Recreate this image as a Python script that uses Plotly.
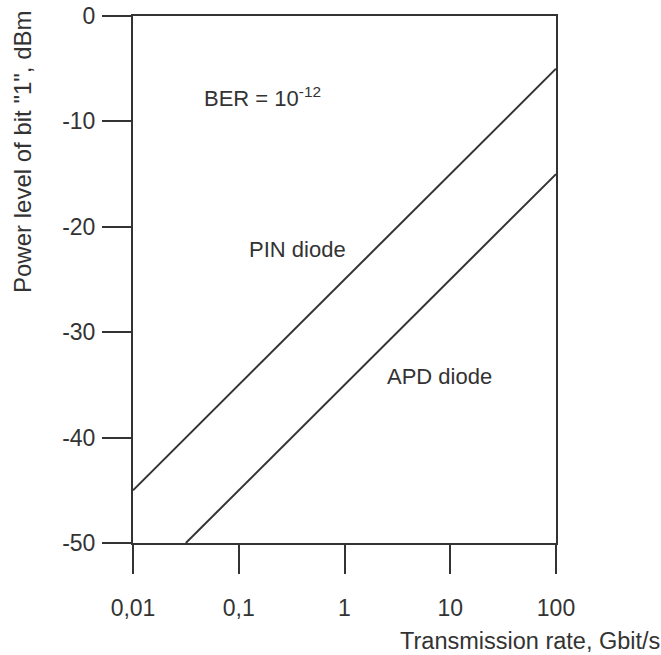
import plotly.graph_objects as go

# Data
pin_rate = [0.01, 100]
pin_power = [-45, -5]
apd_rate = [0.0316, 100]
apd_power = [-50, -15]

x_tickvals = [0.01, 0.1, 1, 10, 100]
x_ticktext = ["0,01", "0,1", "1", "10", "100"]
y_tickvals = [0, -10, -20, -30, -40, -50]
y_ticktext = ["0", "-10", "-20", "-30", "-40", "-50"]

INK = "#333333"
FONT = "Liberation Sans, Arial, sans-serif"

fig = go.Figure()
fig.add_trace(go.Scatter(x=pin_rate, y=pin_power, mode="lines",
                         line=dict(color=INK, width=2), showlegend=False))
fig.add_trace(go.Scatter(x=apd_rate, y=apd_power, mode="lines",
                         line=dict(color=INK, width=2), showlegend=False))

fig.update_layout(
    width=661, height=655,
    margin=dict(l=133, r=105, t=16, b=112),
    paper_bgcolor="white", plot_bgcolor="white",
    font=dict(family=FONT, size=23, color=INK),
    xaxis=dict(type="log", range=[-2, 2], tickvals=x_tickvals, ticktext=x_ticktext,
               showline=True, linecolor=INK, linewidth=2, mirror=True,
               ticks="outside", ticklen=29, tickwidth=2, tickcolor=INK,
               showgrid=False, zeroline=False, ticklabelstandoff=14, automargin=False,
               ticklabeloverflow="allow"),
    yaxis=dict(range=[-50, 0], tickvals=y_tickvals, ticktext=y_ticktext,
               showline=True, linecolor=INK, linewidth=2, mirror=True,
               ticks="outside", ticklen=29, tickwidth=2, tickcolor=INK,
               showgrid=False, zeroline=False, ticklabelstandoff=2, automargin=False,
               ticklabeloverflow="allow"),
    annotations=[
        dict(text="BER = 10<sup>-12</sup>", x=-1.347, y=-7.7, xref="x", yref="y",
             xanchor="left", yanchor="middle", showarrow=False, font=dict(size=22)),
        dict(text="PIN diode", x=-0.922, y=-22.2, xref="x", yref="y",
             xanchor="left", yanchor="middle", showarrow=False, font=dict(size=22)),
        dict(text="APD diode", x=0.383, y=-34.25, xref="x", yref="y",
             xanchor="left", yanchor="middle", showarrow=False, font=dict(size=22)),
        dict(text='Power level of bit "1", dBm', x=-0.26, y=0.742, xref="paper", yref="paper",
             xanchor="center", yanchor="middle", textangle=-90, showarrow=False,
             font=dict(size=24)),
        dict(text="Transmission rate, Gbit/s", x=1.25, y=-0.186, xref="paper", yref="paper",
             xanchor="right", yanchor="middle", showarrow=False, font=dict(size=23.5)),
    ],
)

fig.write_html(
    "out.html",
    config={"displayModeBar": False},
    post_script="document.body.style.margin='0';document.body.style.overflow='hidden';",
)
